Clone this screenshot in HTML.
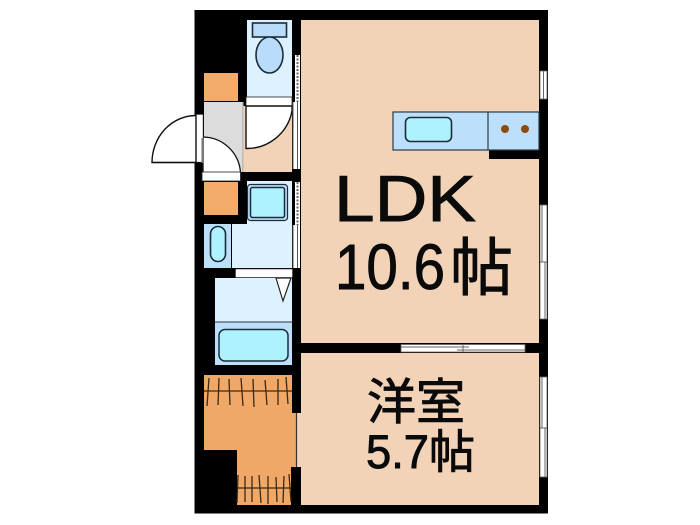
<!DOCTYPE html>
<html><head><meta charset="utf-8"><style>html,body{margin:0;padding:0;background:#fff}svg{display:block}text{fill:#0a0a0a;stroke:#0a0a0a;stroke-width:.9px}</style></head><body>
<svg width="700" height="525" viewBox="0 0 700 525" xmlns="http://www.w3.org/2000/svg">
<rect x="194.500" y="10" width="353.500" height="503.500" fill="#000"/>
<!-- rooms -->
<rect x="301" y="20" width="238" height="323" fill="#f2d3b8"/>
<rect x="301" y="353" width="238" height="152" fill="#f2d3b8"/>
<rect x="297" y="413" width="5" height="54" fill="#f2d3b8"/>
<!-- kitchen -->
<rect x="489" y="150" width="50" height="9" fill="#000"/>
<rect x="393" y="112" width="146" height="38" fill="#bcdffc" stroke="#2c3a45" stroke-width="1.200"/>
<line x1="488" y1="112" x2="488" y2="150" stroke="#2c3a45" stroke-width="1.200"/>
<rect x="405.500" y="117.500" width="46" height="24" rx="5" fill="#aef2ff" stroke="#1c2c38" stroke-width="1.600"/>
<circle cx="505" cy="129" r="4" fill="#8f4a0c"/><circle cx="525" cy="129" r="4" fill="#8f4a0c"/>
<!-- toilet -->
<rect x="247" y="20" width="45" height="77" fill="#ddf1fe"/>
<rect x="252.500" y="23" width="34" height="14" fill="#b8dcfa" stroke="#1c2c38" stroke-width="1.600"/>
<ellipse cx="269.500" cy="55" rx="13.500" ry="18" fill="#b8dcfa" stroke="#1c2c38" stroke-width="1.600"/>
<rect x="246" y="97" width="46" height="9" fill="#fff" stroke="#222" stroke-width=".8"/>
<!-- hall -->
<rect x="243" y="106" width="49" height="66" fill="#f2d3b8"/>
<path d="M246 106V148.500A46 46 0 0 0 292 111V106Z" fill="#fff" stroke="#111" stroke-width="1.400"/>
<!-- entry -->
<rect x="204" y="73" width="34" height="28" fill="#f2ab6b"/>
<rect x="204" y="102" width="38" height="70" fill="#dcdcdc"/>
<rect x="242" y="102" width="1.500" height="70" fill="#bbb"/>
<path d="M203 137A38 38 0 0 1 240.500 173H203Z" fill="#fff" stroke="#111" stroke-width="1.300"/>
<rect x="202" y="172" width="38.500" height="9" fill="#fff" stroke="#222" stroke-width=".8"/>
<rect x="204" y="182" width="34" height="33" fill="#f2ab6b"/>
<rect x="196" y="114.500" width="7" height="48" fill="#fff" stroke="#444" stroke-width=".5"/>
<path d="M152 162.500A44 47 0 0 1 196 115.500V162.500Z" fill="#fff" stroke="#111" stroke-width="1.400"/>
<line x1="152" y1="162.500" x2="203" y2="162.500" stroke="#111" stroke-width="1.200"/>
<rect x="201.500" y="138" width="2.500" height="25" fill="#777"/>
<!-- wash -->
<rect x="247" y="181" width="45" height="44" fill="#ddf1fe"/>
<rect x="232" y="224" width="60" height="44" fill="#ddf1fe"/>
<rect x="204" y="224" width="27" height="44" fill="#bcdffc"/>
<rect x="210.500" y="226.500" width="15" height="35" rx="7.500" fill="#aef2ff" stroke="#1c2c38" stroke-width="1.600"/>
<rect x="247.500" y="184.500" width="40" height="36" rx="3" fill="#bcdffc" stroke="#1c2c38" stroke-width="1.200"/>
<rect x="250.500" y="187.500" width="34" height="30" rx="2" fill="#aef2ff" stroke="#1c2c38" stroke-width="1.500"/>
<rect x="235.500" y="269" width="57" height="8.500" fill="#fff" stroke="#333" stroke-width=".6"/>
<!-- bath -->
<rect x="215" y="278" width="77" height="44" fill="#ddf1fe"/>
<rect x="215" y="322" width="77" height="43" fill="#bcdffc"/>
<line x1="215" y1="322" x2="292" y2="322" stroke="#334" stroke-width="1"/>
<rect x="219" y="329.500" width="69" height="31.500" rx="6" fill="#aef2ff" stroke="#1c2c38" stroke-width="1.500"/>
<path d="M276 278H291L283 301Z" fill="#fff" stroke="#222" stroke-width="1.200"/>
<!-- closet -->
<path d="M204 375H292V413H296V467H291V505H237V450H204Z" fill="#f0a868"/>
<line x1="296.500" y1="413" x2="296.500" y2="467" stroke="#333" stroke-width="1.200"/>
<g stroke="#3a2a15" stroke-width="1.300">
<line x1="204" y1="391" x2="292" y2="391"/>
<line x1="209" y1="378" x2="207" y2="406"/><line x1="219" y1="378" x2="218" y2="405"/><line x1="229" y1="379" x2="230" y2="405"/><line x1="241" y1="378" x2="243" y2="406"/><line x1="253" y1="379" x2="254" y2="407"/><line x1="265" y1="380" x2="267" y2="405"/><line x1="278" y1="379" x2="278" y2="405"/><line x1="286" y1="377" x2="288" y2="404"/>
<line x1="237" y1="488" x2="291" y2="488"/>
<line x1="238" y1="475" x2="237" y2="503"/><line x1="245" y1="476" x2="245" y2="502"/><line x1="252" y1="476" x2="252" y2="502"/><line x1="259" y1="475" x2="261" y2="503"/><line x1="268" y1="476" x2="268" y2="504"/><line x1="276" y1="477" x2="277" y2="502"/><line x1="284" y1="476" x2="283" y2="503"/><line x1="289" y1="474" x2="291" y2="502"/>
</g>
<!-- sliding doors left wall -->
<rect x="295" y="55" width="5" height="47" fill="#fff"/>
<line x1="297.500" y1="55" x2="297.500" y2="102" stroke="#666" stroke-width="2" stroke-dasharray="2 1.500"/>
<rect x="293" y="102" width="7" height="67" fill="#fff"/>
<line x1="293" y1="102" x2="293" y2="169" stroke="#555"/><line x1="297.500" y1="102" x2="297.500" y2="169" stroke="#555"/>
<rect x="295" y="182" width="5" height="43" fill="#fff"/>
<line x1="297.500" y1="182" x2="297.500" y2="225" stroke="#666" stroke-width="2" stroke-dasharray="2 1.500"/>
<rect x="293" y="225" width="7" height="43" fill="#fff"/>
<line x1="293" y1="225" x2="293" y2="268" stroke="#555"/><line x1="297.500" y1="225" x2="297.500" y2="268" stroke="#555"/>
<!-- right windows -->
<g fill="#fff" stroke="#666" stroke-width=".8">
<rect x="540" y="71" width="7" height="28"/>
<rect x="540" y="205" width="7" height="114"/>
<rect x="540" y="377" width="7" height="100"/>
<rect x="401" y="344.500" width="124" height="7.500"/>
</g>
<g stroke="#666" stroke-width="1">
<line x1="543.500" y1="71" x2="543.500" y2="99"/>
<line x1="542" y1="205" x2="542" y2="262"/><line x1="545" y1="262" x2="545" y2="319"/><line x1="540" y1="262" x2="547" y2="262"/>
<line x1="542" y1="377" x2="542" y2="428"/><line x1="545" y1="428" x2="545" y2="477"/><line x1="540" y1="428" x2="547" y2="428"/>
<line x1="401" y1="347" x2="469" y2="347"/><line x1="457" y1="350" x2="525" y2="350"/><line x1="463" y1="345" x2="463" y2="352"/>
</g>
<!-- labels -->
<g font-family="'Liberation Sans','Noto Sans CJK JP',sans-serif">
<text x="334" y="221" font-size="65" textLength="142" lengthAdjust="spacingAndGlyphs">LDK</text>
<text x="335" y="289" font-size="64" textLength="110" lengthAdjust="spacingAndGlyphs">10.6</text>
<text x="450" y="290" font-size="63" font-family="'Noto Sans CJK JP',sans-serif">帖</text>
<text x="367" y="419" font-size="49" font-family="'Noto Sans CJK JP',sans-serif">洋室</text>
<text x="366" y="468" font-size="47" textLength="63" lengthAdjust="spacingAndGlyphs">5.7</text>
<text x="429" y="468" font-size="46" font-family="'Noto Sans CJK JP',sans-serif">帖</text>
</g>
</svg>
</body></html>
